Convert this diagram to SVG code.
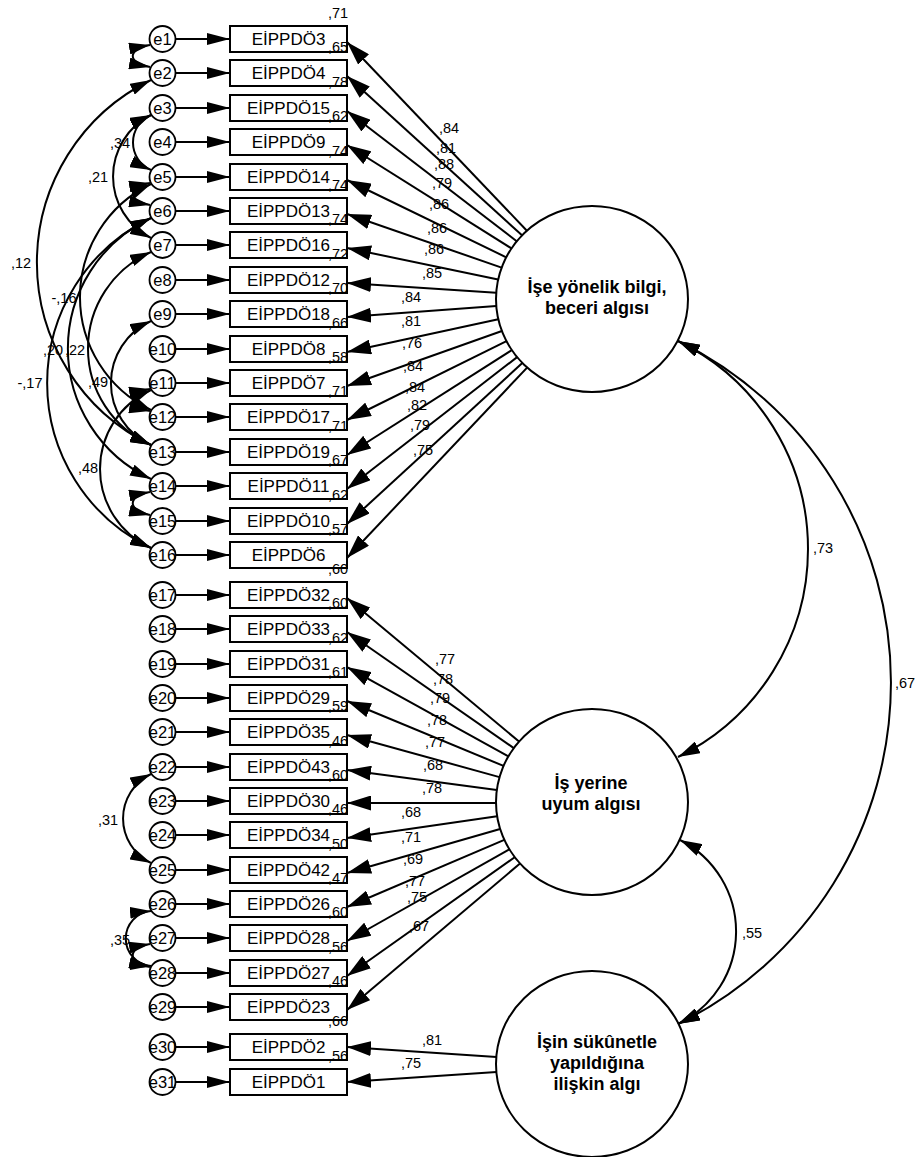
<svg xmlns="http://www.w3.org/2000/svg" width="917" height="1157" viewBox="0 0 917 1157">
<style>
text{font-family:"Liberation Sans",Arial,sans-serif;fill:#000}
.obs rect{fill:#fff;stroke:#000;stroke-width:2}
.obs text{font-size:17px;text-anchor:middle}
.err circle{fill:#fff;stroke:#000;stroke-width:1.8}
.err text{font-size:16.5px;text-anchor:middle}
.lat ellipse{fill:#fff;stroke:#000;stroke-width:2}
.lat text{font-size:18px;font-weight:bold;text-anchor:middle}
.ln{stroke:#000;stroke-width:2;fill:none}
.ld{marker-end:url(#ahL)}
.ea{marker-end:url(#ahS)}
.cv{marker-start:url(#ahC);marker-end:url(#ahC)}
.cl{marker-start:url(#ahL2);marker-end:url(#ahL2)}
.n{font-size:14.5px;text-anchor:middle}
.r2{font-size:14.5px}
</style>
<defs>
<marker id="ahS" markerUnits="userSpaceOnUse" markerWidth="24" markerHeight="12" refX="23" refY="6" orient="auto"><path d="M0,0 L23,6 L0,12 z" fill="#000"/></marker>
<marker id="ahL" markerUnits="userSpaceOnUse" markerWidth="25" markerHeight="15" refX="24" refY="7.5" orient="auto"><path d="M0,0 L24,7.5 L0,15 z" fill="#000"/></marker>
<marker id="ahC" markerUnits="userSpaceOnUse" markerWidth="22" markerHeight="12" refX="21" refY="6" orient="auto-start-reverse"><path d="M0,0 L21,6 L0,12 z" fill="#000"/></marker>
<marker id="ahL2" markerUnits="userSpaceOnUse" markerWidth="23" markerHeight="13" refX="22" refY="6.5" orient="auto-start-reverse"><path d="M0,0 L22,6.5 L0,13 z" fill="#000"/></marker>
</defs>

<g id="nodes-latent">
<g id="F1" class="lat"><ellipse cx="592" cy="299" rx="96" ry="93"/><text x="597" y="292.5">İşe yönelik bilgi,</text><text x="597" y="313.5">beceri algısı</text></g>
<g id="F2" class="lat"><ellipse cx="592" cy="802" rx="96" ry="93"/><text x="591" y="789">İş yerine</text><text x="591" y="810">uyum algısı</text></g>
<g id="F3" class="lat"><ellipse cx="592" cy="1064" rx="96" ry="93"/><text x="597" y="1048">İşin sükûnetle</text><text x="597" y="1069">yapıldığına</text><text x="597" y="1090">ilişkin algı</text></g>
</g>

<g id="nodes-observed">
<g id="v1" class="obs"><rect x="230" y="26" width="117" height="26"/><text x="288.5" y="45">EİPPDÖ3</text></g>
<g id="v2" class="obs"><rect x="230" y="60" width="117" height="26"/><text x="288.5" y="79">EİPPDÖ4</text></g>
<g id="v3" class="obs"><rect x="230" y="95" width="117" height="26"/><text x="288.5" y="114">EİPPDÖ15</text></g>
<g id="v4" class="obs"><rect x="230" y="129" width="117" height="26"/><text x="288.5" y="148">EİPPDÖ9</text></g>
<g id="v5" class="obs"><rect x="230" y="164" width="117" height="26"/><text x="288.5" y="183">EİPPDÖ14</text></g>
<g id="v6" class="obs"><rect x="230" y="198" width="117" height="26"/><text x="288.5" y="217">EİPPDÖ13</text></g>
<g id="v7" class="obs"><rect x="230" y="232" width="117" height="26"/><text x="288.5" y="251">EİPPDÖ16</text></g>
<g id="v8" class="obs"><rect x="230" y="267" width="117" height="26"/><text x="288.5" y="286">EİPPDÖ12</text></g>
<g id="v9" class="obs"><rect x="230" y="301" width="117" height="26"/><text x="288.5" y="320">EİPPDÖ18</text></g>
<g id="v10" class="obs"><rect x="230" y="336" width="117" height="26"/><text x="288.5" y="355">EİPPDÖ8</text></g>
<g id="v11" class="obs"><rect x="230" y="370" width="117" height="26"/><text x="288.5" y="389">EİPPDÖ7</text></g>
<g id="v12" class="obs"><rect x="230" y="404" width="117" height="26"/><text x="288.5" y="423">EİPPDÖ17</text></g>
<g id="v13" class="obs"><rect x="230" y="439" width="117" height="26"/><text x="288.5" y="458">EİPPDÖ19</text></g>
<g id="v14" class="obs"><rect x="230" y="473" width="117" height="26"/><text x="288.5" y="492">EİPPDÖ11</text></g>
<g id="v15" class="obs"><rect x="230" y="508" width="117" height="26"/><text x="288.5" y="527">EİPPDÖ10</text></g>
<g id="v16" class="obs"><rect x="230" y="542" width="117" height="26"/><text x="288.5" y="561">EİPPDÖ6</text></g>
<g id="v17" class="obs"><rect x="230" y="582" width="117" height="26"/><text x="288.5" y="601">EİPPDÖ32</text></g>
<g id="v18" class="obs"><rect x="230" y="616" width="117" height="26"/><text x="288.5" y="635">EİPPDÖ33</text></g>
<g id="v19" class="obs"><rect x="230" y="651" width="117" height="26"/><text x="288.5" y="670">EİPPDÖ31</text></g>
<g id="v20" class="obs"><rect x="230" y="685" width="117" height="26"/><text x="288.5" y="704">EİPPDÖ29</text></g>
<g id="v21" class="obs"><rect x="230" y="719" width="117" height="26"/><text x="288.5" y="738">EİPPDÖ35</text></g>
<g id="v22" class="obs"><rect x="230" y="754" width="117" height="26"/><text x="288.5" y="773">EİPPDÖ43</text></g>
<g id="v23" class="obs"><rect x="230" y="788" width="117" height="26"/><text x="288.5" y="807">EİPPDÖ30</text></g>
<g id="v24" class="obs"><rect x="230" y="822" width="117" height="26"/><text x="288.5" y="841">EİPPDÖ34</text></g>
<g id="v25" class="obs"><rect x="230" y="857" width="117" height="26"/><text x="288.5" y="876">EİPPDÖ42</text></g>
<g id="v26" class="obs"><rect x="230" y="891" width="117" height="26"/><text x="288.5" y="910">EİPPDÖ26</text></g>
<g id="v27" class="obs"><rect x="230" y="925" width="117" height="26"/><text x="288.5" y="944">EİPPDÖ28</text></g>
<g id="v28" class="obs"><rect x="230" y="960" width="117" height="26"/><text x="288.5" y="979">EİPPDÖ27</text></g>
<g id="v29" class="obs"><rect x="230" y="994" width="117" height="26"/><text x="288.5" y="1013">EİPPDÖ23</text></g>
<g id="v30" class="obs"><rect x="230" y="1034" width="117" height="26"/><text x="288.5" y="1053">EİPPDÖ2</text></g>
<g id="v31" class="obs"><rect x="230" y="1069" width="117" height="26"/><text x="288.5" y="1088">EİPPDÖ1</text></g>
</g>

<g id="nodes-error">
<g id="e1" class="err"><circle cx="162.5" cy="39" r="13"/><text x="162.5" y="44.5">e1</text></g>
<g id="e2" class="err"><circle cx="162.5" cy="73" r="13"/><text x="162.5" y="78.5">e2</text></g>
<g id="e3" class="err"><circle cx="162.5" cy="108" r="13"/><text x="162.5" y="113.5">e3</text></g>
<g id="e4" class="err"><circle cx="162.5" cy="142" r="13"/><text x="162.5" y="147.5">e4</text></g>
<g id="e5" class="err"><circle cx="162.5" cy="177" r="13"/><text x="162.5" y="182.5">e5</text></g>
<g id="e6" class="err"><circle cx="162.5" cy="211" r="13"/><text x="162.5" y="216.5">e6</text></g>
<g id="e7" class="err"><circle cx="162.5" cy="245" r="13"/><text x="162.5" y="250.5">e7</text></g>
<g id="e8" class="err"><circle cx="162.5" cy="280" r="13"/><text x="162.5" y="285.5">e8</text></g>
<g id="e9" class="err"><circle cx="162.5" cy="314" r="13"/><text x="162.5" y="319.5">e9</text></g>
<g id="e10" class="err"><circle cx="162.5" cy="349" r="13"/><text x="162.5" y="354.5">e10</text></g>
<g id="e11" class="err"><circle cx="162.5" cy="383" r="13"/><text x="162.5" y="388.5">e11</text></g>
<g id="e12" class="err"><circle cx="162.5" cy="417" r="13"/><text x="162.5" y="422.5">e12</text></g>
<g id="e13" class="err"><circle cx="162.5" cy="452" r="13"/><text x="162.5" y="457.5">e13</text></g>
<g id="e14" class="err"><circle cx="162.5" cy="486" r="13"/><text x="162.5" y="491.5">e14</text></g>
<g id="e15" class="err"><circle cx="162.5" cy="521" r="13"/><text x="162.5" y="526.5">e15</text></g>
<g id="e16" class="err"><circle cx="162.5" cy="555" r="13"/><text x="162.5" y="560.5">e16</text></g>
<g id="e17" class="err"><circle cx="162.5" cy="595" r="13"/><text x="162.5" y="600.5">e17</text></g>
<g id="e18" class="err"><circle cx="162.5" cy="629" r="13"/><text x="162.5" y="634.5">e18</text></g>
<g id="e19" class="err"><circle cx="162.5" cy="664" r="13"/><text x="162.5" y="669.5">e19</text></g>
<g id="e20" class="err"><circle cx="162.5" cy="698" r="13"/><text x="162.5" y="703.5">e20</text></g>
<g id="e21" class="err"><circle cx="162.5" cy="732" r="13"/><text x="162.5" y="737.5">e21</text></g>
<g id="e22" class="err"><circle cx="162.5" cy="767" r="13"/><text x="162.5" y="772.5">e22</text></g>
<g id="e23" class="err"><circle cx="162.5" cy="801" r="13"/><text x="162.5" y="806.5">e23</text></g>
<g id="e24" class="err"><circle cx="162.5" cy="835" r="13"/><text x="162.5" y="840.5">e24</text></g>
<g id="e25" class="err"><circle cx="162.5" cy="870" r="13"/><text x="162.5" y="875.5">e25</text></g>
<g id="e26" class="err"><circle cx="162.5" cy="904" r="13"/><text x="162.5" y="909.5">e26</text></g>
<g id="e27" class="err"><circle cx="162.5" cy="938" r="13"/><text x="162.5" y="943.5">e27</text></g>
<g id="e28" class="err"><circle cx="162.5" cy="973" r="13"/><text x="162.5" y="978.5">e28</text></g>
<g id="e29" class="err"><circle cx="162.5" cy="1007" r="13"/><text x="162.5" y="1012.5">e29</text></g>
<g id="e30" class="err"><circle cx="162.5" cy="1047" r="13"/><text x="162.5" y="1052.5">e30</text></g>
<g id="e31" class="err"><circle cx="162.5" cy="1082" r="13"/><text x="162.5" y="1087.5">e31</text></g>
</g>

<g id="connectors">
<g id="error-paths" class="ln ea">
<line x1="175.5" y1="39" x2="230" y2="39"/><line x1="175.5" y1="73" x2="230" y2="73"/><line x1="175.5" y1="108" x2="230" y2="108"/><line x1="175.5" y1="142" x2="230" y2="142"/><line x1="175.5" y1="177" x2="230" y2="177"/><line x1="175.5" y1="211" x2="230" y2="211"/><line x1="175.5" y1="245" x2="230" y2="245"/><line x1="175.5" y1="280" x2="230" y2="280"/><line x1="175.5" y1="314" x2="230" y2="314"/><line x1="175.5" y1="349" x2="230" y2="349"/><line x1="175.5" y1="383" x2="230" y2="383"/><line x1="175.5" y1="417" x2="230" y2="417"/><line x1="175.5" y1="452" x2="230" y2="452"/><line x1="175.5" y1="486" x2="230" y2="486"/><line x1="175.5" y1="521" x2="230" y2="521"/><line x1="175.5" y1="555" x2="230" y2="555"/>
<line x1="175.5" y1="595" x2="230" y2="595"/><line x1="175.5" y1="629" x2="230" y2="629"/><line x1="175.5" y1="664" x2="230" y2="664"/><line x1="175.5" y1="698" x2="230" y2="698"/><line x1="175.5" y1="732" x2="230" y2="732"/><line x1="175.5" y1="767" x2="230" y2="767"/><line x1="175.5" y1="801" x2="230" y2="801"/><line x1="175.5" y1="835" x2="230" y2="835"/><line x1="175.5" y1="870" x2="230" y2="870"/><line x1="175.5" y1="904" x2="230" y2="904"/><line x1="175.5" y1="938" x2="230" y2="938"/><line x1="175.5" y1="973" x2="230" y2="973"/><line x1="175.5" y1="1007" x2="230" y2="1007"/><line x1="175.5" y1="1047" x2="230" y2="1047"/><line x1="175.5" y1="1082" x2="230" y2="1082"/>
</g>
<g id="loadings-F1" class="ln ld">
<line x1="526.9" y1="230.7" x2="347" y2="42"/><line x1="522" y1="235.3" x2="347" y2="76"/><line x1="516.7" y1="241.2" x2="347" y2="111"/><line x1="511.5" y1="248.4" x2="347" y2="145"/><line x1="506.2" y1="257.3" x2="347" y2="180"/><line x1="501.6" y1="267.6" x2="347" y2="214"/><line x1="498.1" y1="279.5" x2="347" y2="248"/><line x1="496.2" y1="292.7" x2="347" y2="283"/><line x1="496.3" y1="306" x2="347" y2="317"/><line x1="498.3" y1="319.3" x2="347" y2="352"/><line x1="501.9" y1="331" x2="347" y2="386"/><line x1="506.5" y1="341.2" x2="347" y2="420"/><line x1="511.8" y1="350.1" x2="347" y2="455"/><line x1="517.1" y1="357.1" x2="347" y2="489"/><line x1="522.3" y1="363" x2="347" y2="524"/><line x1="527.1" y1="367.6" x2="347" y2="558"/>
</g>
<g id="loadings-F2" class="ln ld">
<line x1="519" y1="741.5" x2="347" y2="598"/><line x1="513.8" y1="748.1" x2="347" y2="632"/><line x1="508.4" y1="756.3" x2="347" y2="667"/><line x1="503.5" y1="765.9" x2="347" y2="701"/><line x1="499.5" y1="777.1" x2="347" y2="735"/><line x1="496.8" y1="790" x2="347" y2="770"/><line x1="496" y1="803" x2="347" y2="803"/><line x1="497.1" y1="816.3" x2="347" y2="838"/><line x1="500.1" y1="829" x2="347" y2="873"/><line x1="504.3" y1="839.9" x2="347" y2="907"/><line x1="509.3" y1="849.3" x2="347" y2="941"/><line x1="514.7" y1="857.2" x2="347" y2="976"/><line x1="520" y1="863.5" x2="347" y2="1010"/>
</g>
<g id="loadings-F3" class="ln ld">
<line x1="496.5" y1="1057" x2="347" y2="1047"/><line x1="496.5" y1="1072" x2="347" y2="1082"/>
</g>
<g id="error-covariances" class="ln cv">
<path d="M150,45 C127,49 127,63 150,67"/>
<path d="M151,115 A30,30 0 0 0 151,170"/>
<path d="M151,115 A68.8,68.8 0 0 0 151,238"/>
<path d="M150,183 C127,187 127,201 150,205"/>
<path d="M151,80 A203,203 0 0 0 151,445"/>
<path d="M151,218 A183,183 0 0 0 151,548"/>
<path d="M151,218 A144,144 0 0 0 151,479"/>
<path d="M151,252 A105.4,105.4 0 0 0 151,445"/>
<path d="M151,184 A125.4,125.4 0 0 0 151,410"/>
<path d="M151,321 A68,68 0 0 0 151,445"/>
<path d="M151,390 A86.7,86.7 0 0 0 151,548"/>
<path d="M150,389 C127,393 127,407 150,411"/>
<path d="M150,492 C127,496 127,510 150,515"/>
<path d="M151,774 A49.4,49.4 0 0 0 151,863"/>
<path d="M151,911 A27.6,27.6 0 0 0 151,966"/>
<path d="M150,944 C127,948 127,962 150,967"/>
</g>
<g id="latent-covariances" class="ln cl">
<path d="M678,341 A231.4,231.4 0 0 1 678,757"/>
<path d="M678,341 A380.3,380.3 0 0 1 678,1024"/>
<path d="M680,840 A102.7,102.7 0 0 1 678,1024"/>
</g>
</g>

<g id="labels">
<g id="r2" class="r2">
<text x="328" y="18">,71</text><text x="328" y="52">,65</text><text x="328" y="87">,78</text><text x="328" y="121">,62</text><text x="328" y="156">,74</text><text x="328" y="190">,74</text><text x="328" y="224">,74</text><text x="328" y="259">,72</text><text x="328" y="293">,70</text><text x="328" y="328">,66</text><text x="328" y="362">,58</text><text x="328" y="396">,71</text><text x="328" y="431">,71</text><text x="328" y="465">,67</text><text x="328" y="500">,62</text><text x="328" y="534">,57</text>
<text x="328" y="574">,60</text><text x="328" y="608">,60</text><text x="328" y="643">,62</text><text x="328" y="677">,61</text><text x="328" y="711">,59</text><text x="328" y="746">,46</text><text x="328" y="780">,60</text><text x="328" y="814">,46</text><text x="328" y="849">,50</text><text x="328" y="883">,47</text><text x="328" y="917">,60</text><text x="328" y="952">,56</text><text x="328" y="986">,46</text><text x="328" y="1026">,66</text><text x="328" y="1061">,56</text>
</g>
<g id="loading-values" class="n">
<text x="449" y="133">,84</text><text x="446" y="153">,81</text><text x="444" y="169">,88</text><text x="442" y="188">,79</text><text x="439" y="209">,86</text><text x="437" y="233">,86</text><text x="434" y="254">,86</text><text x="432" y="278">,85</text><text x="411" y="302">,84</text><text x="411" y="326">,81</text><text x="412" y="348">,76</text><text x="413" y="371">,84</text><text x="415" y="392">,84</text><text x="417" y="410">,82</text><text x="420" y="430">,79</text><text x="423" y="455">,75</text>
<text x="445" y="664">,77</text><text x="443" y="684">,78</text><text x="440" y="703">,79</text><text x="437" y="725">,78</text><text x="435" y="747">,77</text><text x="433" y="770">,68</text><text x="432" y="793">,78</text><text x="411" y="817">,68</text><text x="411" y="842">,71</text><text x="413" y="864">,69</text><text x="415" y="886">,77</text><text x="417" y="902">,75</text><text x="419" y="931">,67</text>
<text x="432" y="1045">,81</text><text x="411" y="1068">,75</text>
</g>
<g id="covariance-values" class="n">
<text x="120" y="148">,34</text><text x="98" y="182">,21</text><text x="21" y="268">,12</text><text x="64" y="303">-,16</text><text x="53" y="355">,20</text><text x="75" y="355">,22</text><text x="30" y="388">-,17</text><text x="98" y="387">,49</text><text x="88" y="473">,48</text><text x="108" y="825">,31</text><text x="120" y="945">,35</text>
<text x="823" y="553">,73</text><text x="905" y="688">,67</text><text x="752" y="938">,55</text>
</g>
</g>
</svg>
